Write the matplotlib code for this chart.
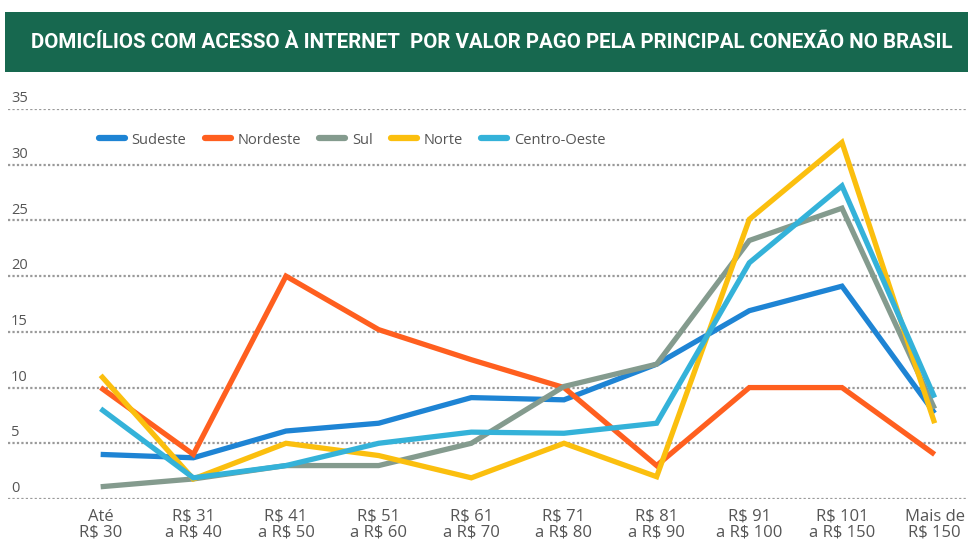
import matplotlib.pyplot as plt
from matplotlib.patches import Rectangle
import matplotlib.transforms as mtransforms

# Data
categories = ['Até\nR$ 30', 'R$ 31\na R$ 40', 'R$ 41\na R$ 50', 'R$ 51\na R$ 60',
              'R$ 61\na R$ 70', 'R$ 71\na R$ 80', 'R$ 81\na R$ 90',
              'R$ 91\na R$ 100', 'R$ 101\na R$ 150', 'Mais de\nR$ 150']
sudeste = [4, 3.7, 6.1, 6.8, 9.1, 8.9, 12.1, 16.9, 19.1, 7.7]
nordeste = [10, 4, 20, 15.2, 12.5, 10, 3, 10, 10, 4]
sul = [1.1, 1.8, 3, 3, 5, 10.1, 12.1, 23.2, 26.1, 8.1]
norte = [11.1, 1.8, 5, 3.9, 1.9, 5, 2, 25.1, 32, 6.8]
centro_oeste = [8.1, 1.9, 3, 5, 6, 5.9, 6.8, 21.2, 28.1, 9.1]
y_ticks = [0, 5, 10, 15, 20, 25, 30, 35]

series = [('Sudeste', sudeste, '#1E84D4'),
          ('Nordeste', nordeste, '#FF5F1F'),
          ('Sul', sul, '#849B8E'),
          ('Norte', norte, '#FBBF0E'),
          ('Centro-Oeste', centro_oeste, '#34B2D9')]

plt.rcParams['font.family'] = ['Open Sans', 'DejaVu Sans']
text_color = '#555555'

fig = plt.figure(figsize=(9.68, 5.4), dpi=100)

# Title banner
fig.patches.append(Rectangle((5 / 968, 1 - 72 / 540), 963 / 968, 60 / 540,
                             transform=fig.transFigure, facecolor='#17684F',
                             edgecolor='none'))
fig.text(492 / 968, 1 - 43 / 540,
         'DOMICÍLIOS COM ACESSO À INTERNET  POR VALOR PAGO PELA PRINCIPAL CONEXÃO NO BRASIL',
         color='white', fontsize=14.8, fontweight='bold', ha='center', va='center',
         family=['Roboto', 'DejaVu Sans'])

ax = fig.add_axes([8 / 968, 1 - 499 / 540, 960 / 968, 390 / 540])
x = list(range(len(categories)))
for name, vals, color in series:
    ax.plot(x, vals, color=color, lw=3.8, label=name, solid_joinstyle='miter',
            solid_capstyle='butt', clip_on=False)

ax.set_xlim(-1.0, 9.36)
ax.set_ylim(0, 35)
ax.set_yticks(y_ticks)
ax.set_yticklabels([])
ax.tick_params(axis='y', length=0)
ax.grid(axis='y', color='#9a9a9a', linestyle=(0, (1, 1)), linewidth=1.6)
ax.set_axisbelow(True)
for s in ax.spines.values():
    s.set_visible(False)

trans = mtransforms.blended_transform_factory(ax.transAxes, ax.transData)
for t in y_ticks:
    ax.text(0.003, t + 0.25, str(t), transform=trans, ha='left', va='bottom',
            fontsize=10.5, color=text_color)

ax.set_xticks(x)
ax.set_xticklabels(categories, fontsize=12, color=text_color, linespacing=1.0)
ax.tick_params(axis='x', length=0, pad=7)

leg = ax.legend(loc='center left', bbox_to_anchor=(85 / 960, (499 - 140) / 390), ncol=5,
                frameon=False, fontsize=10.5, handlelength=1.8, handletextpad=0.45,
                columnspacing=1.25, labelcolor=text_color, borderaxespad=0)
for line in leg.get_lines():
    line.set_linewidth(4.5)
    line.set_solid_capstyle('round')

plt.savefig('out.png', dpi=100)
